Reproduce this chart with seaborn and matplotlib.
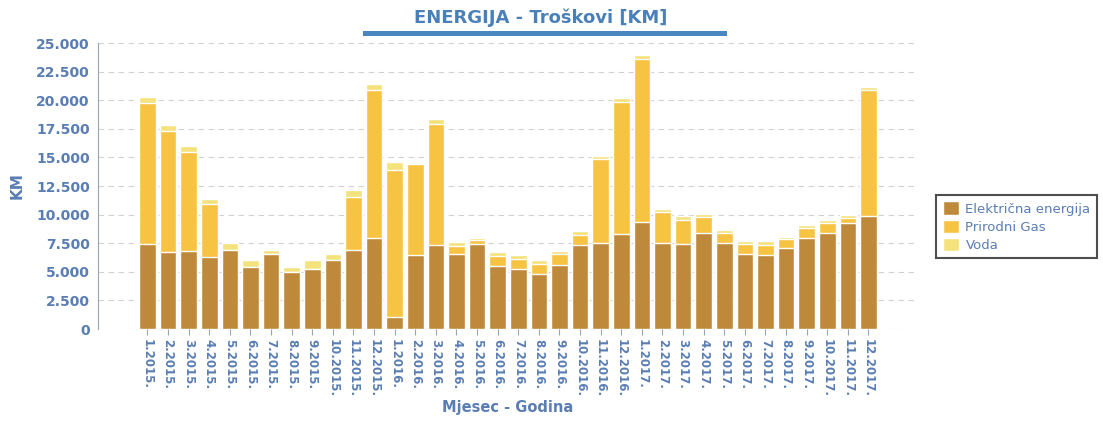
import numpy as np
import matplotlib
matplotlib.use("Agg")
import matplotlib.pyplot as plt
import pandas as pd
import seaborn as sns
from matplotlib.patches import Patch, Rectangle
from matplotlib.ticker import FuncFormatter

# mjeseci 1.2015. - 12.2017.
mjeseci = [f"{m}.{g}." for g in (2015, 2016, 2017) for m in range(1, 13)]

elektricna = [7400, 6690, 6780, 6290, 6920, 5420, 6520, 4960, 5250, 6060, 6920, 7950,
              1010, 6470, 7310, 6580, 7450, 5550, 5230, 4830, 5610, 7310, 7550, 8340,
              9390, 7550, 7440, 8420, 7490, 6570, 6490, 7060, 7930, 8420, 9290, 9920]
gas = [12320, 10650, 8735, 4610, 0, 0, 0, 0, 0, 0, 4640, 12930,
       12910, 7980, 10580, 690, 300, 790, 870, 840, 920, 930, 7300, 11525,
       14245, 2690, 2130, 1380, 870, 870, 860, 780, 860, 860, 450, 10980]
voda = [550, 460, 490, 490, 620, 570, 400, 460, 800, 510, 560, 520,
        670, 100, 470, 300, 200, 390, 390, 330, 330, 300, 230, 350,
        290, 260, 290, 260, 290, 260, 340, 230, 290, 290, 260, 280]

serije = ["Električna energija", "Prirodni Gas", "Voda"]
boje = ["#bf893b", "#f6c342", "#f4e27c"]
plava = "#5a7db3"

df = pd.DataFrame({"mjesec": mjeseci, "el": elektricna, "gas": gas, "voda": voda})
df["el_gas"] = df["el"] + df["gas"]
df["ukupno"] = df["el_gas"] + df["voda"]

sns.set_style("white")
plt.rcParams["font.family"] = ["DejaVu Sans"]

fig = plt.figure(figsize=(11.03, 4.28), dpi=100)
ax = fig.add_axes([0.0889, 0.2313, 0.7433, 0.6682])

# slojevi od vrha prema dnu
for kol, boja in zip(["ukupno", "el_gas", "el"], boje[::-1]):
    sns.barplot(data=df, x="mjesec", y=kol, color=boja, width=0.8,
                saturation=1, ax=ax, zorder=3)

ax.set_ylim(0, 25000)
ax.set_xlim(-2.4, len(mjeseci) - 1 + 2.4)
ax.set_yticks(np.arange(0, 25001, 2500))
ax.yaxis.set_major_formatter(FuncFormatter(lambda v, p: f"{int(v):,}".replace(",", ".")))
ax.grid(axis="y", color="#d2d2d2", linestyle=(0, (5, 4)), linewidth=0.8, zorder=0)

for s in ["top", "right", "bottom"]:
    ax.spines[s].set_visible(False)
ax.spines["left"].set_color("#9aa3b5")

ax.tick_params(axis="x", rotation=270, labelsize=8.5, colors="#9aa3b5", length=4,
               direction="out", bottom=True, labelcolor=plava, pad=3)
ax.tick_params(axis="y", labelsize=10, length=0, labelcolor=plava, pad=6)
for t in ax.get_xticklabels():
    t.set_fontweight("bold")
    t.set_va("top")
for t in ax.get_yticklabels():
    t.set_fontweight("bold")

ax.set_xlabel("Mjesec - Godina", fontsize=10.5, fontweight="heavy", color=plava)
ax.xaxis.set_label_coords(0.5, -0.273)
ax.xaxis.label.set_va("center")
ax.set_ylabel("KM", fontsize=11, fontweight="heavy", color=plava, labelpad=8)

fig.text(0.49, 0.958, "ENERGIJA - Troškovi [KM]", ha="center", va="center",
         fontsize=13, fontweight="bold", color="#4a80b8")
# plava linija ispod naslova (363-727 px)
fig.patches.append(Rectangle((0.329, 0.917), 0.330, 0.0095, transform=fig.transFigure,
                             facecolor="#4a86c0", edgecolor="none"))

handles = [Patch(facecolor=b, label=s) for b, s in zip(boje, serije)]
leg = fig.legend(handles=handles, loc="upper left", bbox_to_anchor=(0.849, 0.545),
                 frameon=True, fancybox=False, fontsize=9.5, handlelength=1.2,
                 handleheight=1.2, handletextpad=0.5, labelspacing=0.3,
                 borderpad=0.5, borderaxespad=0, labelcolor=plava)
leg.get_frame().set_edgecolor("#222222")
leg.get_frame().set_linewidth(1.5)

fig.savefig("out.png", dpi=100)
